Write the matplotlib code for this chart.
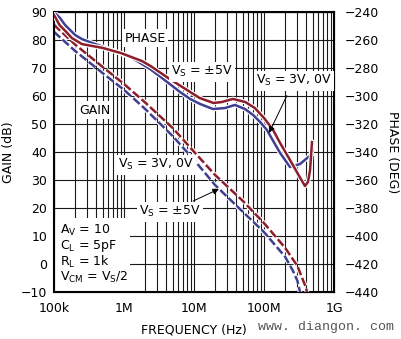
import matplotlib
matplotlib.use("Agg")
import matplotlib.pyplot as plt
import matplotlib.patheffects as pe
from matplotlib.patches import Rectangle
from matplotlib.ticker import FixedLocator, NullFormatter

plt.rcParams["font.family"] = ["DejaVu Sans"]
plt.rcParams["mathtext.default"] = "regular"

# ================================
#   DATOS
# ================================

# Ganancia, VS = 3V, 0V (rojo discontinuo)
gain_red_f = [1e5, 2e5, 5e5, 1e6, 2e6, 5e6, 1e7, 2e7, 5e7, 1e8, 2e8, 3e8, 4e8, 4.1e8]
gain_red_db = [85.4, 78.4, 70.3, 64.3, 57.7, 48.5, 40.1, 31.8, 22.5, 14.6, 5.8, -0.7, -8.6, -10]

# Ganancia, VS = +-5V (azul discontinuo)
gain_blue_f = [1e5, 2e5, 5e5, 1e6, 2e6, 5e6, 1e7, 2e7, 5e7, 1e8, 2e8, 2.6e8, 3.0e8, 3.27e8]
gain_blue_db = [82.9, 76.1, 68.1, 62.2, 55.4, 45.6, 37.2, 28.2, 18.6, 11.4, 2.6, -2.5, -6.0, -10]

# Fase, VS = +-5V (rojo continuo)
phase_red_f = [1e5, 1.2e5, 1.5e5, 1.8e5, 2.5e5, 5e5, 9e5, 1.8e6, 2.4e6, 4.5e6, 8.8e6,
               1.2e7, 1.9e7, 2.5e7, 3.6e7, 5.4e7, 7.4e7, 1.0e8, 1.35e8, 1.7e8, 2.35e8,
               3.3e8, 3.85e8, 4.25e8, 4.55e8, 4.85e8]
phase_red_deg = [-242.1, -249.3, -254.3, -258.6, -262.9, -265.7, -269.3, -275.0, -278.6,
                 -287.9, -297.1, -301.4, -305.0, -304.3, -302.1, -304.3, -308.6, -315.7,
                 -324.3, -333.6, -345.7, -358.6, -364.3, -361.4, -352.9, -332.9]

# Fase, VS = 3V, 0V (azul continuo)
phase_blue_f = [1e5, 1.22e5, 1.44e5, 2e5, 2.5e5, 3.5e5, 6.7e5, 1.3e6, 1.8e6, 2.35e6, 3.2e6,
                4.5e6, 6.3e6, 8.8e6, 1.22e7, 1.87e7, 2.77e7, 3.84e7, 5.35e7, 7e7, 8.8e7,
                1.1e8, 1.7e8, 2.35e8, 3.27e8, 4.85e8]
phase_blue_deg = [-240.0, -244.3, -249.3, -256.4, -259.3, -262.1, -267.1, -272.9, -277.1,
                  -280.7, -285.7, -291.4, -297.1, -302.1, -305.7, -309.3, -308.6, -306.4,
                  -309.3, -313.6, -318.6, -324.3, -340.7, -350.7, -348.6, -341.4]

freq_ticks = [1e5, 1e6, 1e7, 1e8, 1e9]
freq_labels = ["100k", "1M", "10M", "100M", "1G"]
gain_ticks = list(range(-10, 91, 10))
phase_ticks = list(range(-440, -239, 20))

ROJO = "#8c1d2b"
AZUL = "#3e3f93"

# ================================
#   FIGURA
# ================================

fig = plt.figure(figsize=(4.01, 3.39), dpi=100)
ax = fig.add_axes([54 / 401, 1 - 292 / 339, 280 / 401, 280 / 339])
ax.set_xscale("log")
ax.set_xlim(1e5, 1e9)
ax.set_ylim(-10, 90)
ax.set_axisbelow(True)

ax.set_xticks(freq_ticks)
ax.set_xticklabels(freq_labels)
minors = [m * d for d in [1e5, 1e6, 1e7, 1e8] for m in range(2, 10)]
ax.xaxis.set_minor_locator(FixedLocator(minors))
ax.xaxis.set_minor_formatter(NullFormatter())
ax.set_yticks(gain_ticks)

ax.grid(which="major", color="#1a1a1a", lw=0.8)
ax.grid(which="minor", axis="x", color="#1a1a1a", lw=0.8)
ax.tick_params(which="both", length=0, labelsize=9)
ax.tick_params(axis="y", pad=5)
ax.tick_params(axis="x", pad=7)
for s in ax.spines.values():
    s.set_linewidth(1.5)

ax2 = ax.twinx()
ax2.set_ylim(-440, -240)
ax2.set_yticks(phase_ticks)
ax2.set_yticklabels(["\u2212%d" % abs(t) for t in phase_ticks])
ax2.tick_params(length=0, labelsize=9, pad=8)
ax.set_yticklabels(["\u2212%d" % abs(t) if t < 0 else str(t) for t in gain_ticks])

ax.set_xlabel("FREQUENCY (Hz)", fontsize=9, labelpad=6)
ax.set_ylabel("GAIN (dB)", fontsize=9, labelpad=4)
ax2.set_ylabel("PHASE (DEG)", fontsize=9, rotation=270, labelpad=14)

# Caja blanca de las condiciones (tapa la rejilla)
ax.add_patch(Rectangle((0, 0), 0.27, 0.265, transform=ax.transAxes,
                       facecolor="white", edgecolor="none", zorder=1))

halo = [pe.Stroke(linewidth=3.4, foreground="white"), pe.Normal()]

ax.plot(gain_red_f, gain_red_db, color=ROJO, lw=1.8, dashes=(3.4, 1.2),
        path_effects=halo, zorder=3)
ax.plot(gain_blue_f, gain_blue_db, color=AZUL, lw=1.8, dashes=(3.4, 1.2),
        path_effects=halo, zorder=3)
ax2.plot(phase_blue_f, phase_blue_deg, color=AZUL, lw=1.8, path_effects=halo, zorder=3)
ax2.plot(phase_red_f, phase_red_deg, color=ROJO, lw=1.8, path_effects=halo, zorder=3)

# ================================
#   ETIQUETAS
# ================================

caja = dict(facecolor="white", edgecolor="none", pad=1.5)

ax2.text(0.146, 0.65, "GAIN", transform=ax.transAxes, ha="center", va="center",
         fontsize=9, bbox=caja)
ax2.text(0.325, 0.907, "PHASE", transform=ax.transAxes, ha="center", va="center",
         fontsize=9, bbox=caja)
ax2.text(0.529, 0.786, "V$_S$ = \u00b15V", transform=ax.transAxes, ha="center",
         va="center", fontsize=9, bbox=caja)
ax2.text(0.364, 0.454, "V$_S$ = 3V, 0V", transform=ax.transAxes, ha="center",
         va="center", fontsize=9, bbox=caja)

ax2.annotate("V$_S$ = 3V, 0V", xy=(0.768, 0.568), xytext=(0.857, 0.754),
             xycoords="axes fraction", textcoords="axes fraction",
             ha="center", va="center", fontsize=9, bbox=caja,
             arrowprops=dict(arrowstyle="-|>", color="black", lw=0.7,
                             mutation_scale=9, shrinkA=4, shrinkB=0))
ax2.annotate("V$_S$ = \u00b15V", xy=(0.589, 0.368), xytext=(0.414, 0.286),
             xycoords="axes fraction", textcoords="axes fraction",
             ha="center", va="center", fontsize=9, bbox=caja,
             arrowprops=dict(arrowstyle="-|>", color="black", lw=0.7,
                             mutation_scale=9, shrinkA=2, shrinkB=0))

condiciones = ["A$_V$ = 10", "C$_L$ = 5pF", "R$_L$ = 1k", "V$_{CM}$ = V$_S$/2"]
for i, t in enumerate(condiciones):
    ax2.text(0.021, 0.221 - i * 0.056, t, transform=ax.transAxes, ha="left",
             va="center", fontsize=9)

fig.text(258 / 401, 1 - 327 / 339, "www. diangon. com", fontsize=9.5,
         family=["Liberation Mono", "DejaVu Sans Mono"], color="#555555",
         ha="left", va="center")

fig.savefig("out.png", dpi=100)
